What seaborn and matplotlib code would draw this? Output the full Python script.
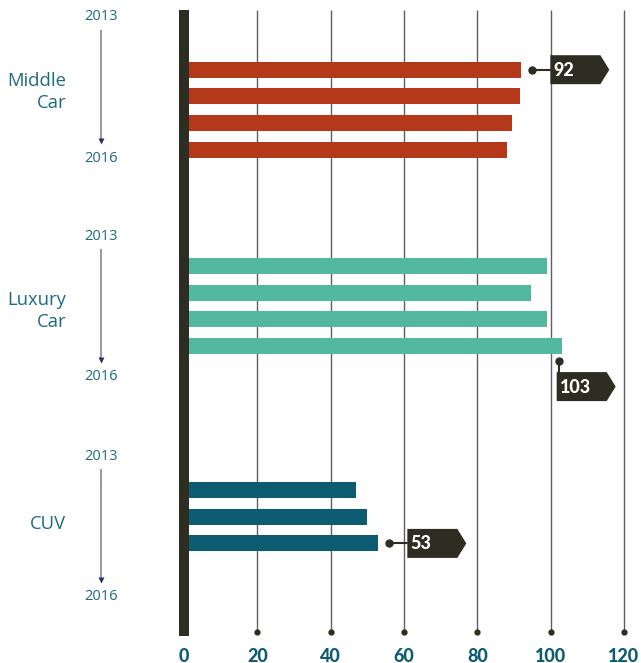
import numpy as np
import pandas as pd
import seaborn as sns
import matplotlib.pyplot as plt
from matplotlib.patches import Polygon, Rectangle

# ---- data -------------------------------------------------------------
categories = ["Middle Car", "Luxury Car", "CUV"]
years = [2013, 2014, 2015, 2016]
middle_car = [92, 91.5, 89.5, 88]
luxury_car = [99, 94.5, 99, 103]
cuv = [47, 50, 53, None]
series = [middle_car, luxury_car, cuv]
x_ticks = [0, 20, 40, 60, 80, 100, 120]
colors = ["#B4381A", "#52B9A0", "#0E5C72"]

# ---- style ------------------------------------------------------------
sns.set_theme(style="white")
plt.rcParams["font.family"] = ["Open Sans", "DejaVu Sans"]

DARK = "#2D2D21"
LABEL = "#1D6A80"
TICK = "#0E5C72"

W, H = 641, 663
fig = plt.figure(figsize=(W / 100, H / 100), dpi=100)
ax = fig.add_axes([0, 0, 1, 1])

X0 = 184            # pixel column of the zero line
PX = 440 / 120      # pixels per value unit


def vx(px):
    """Horizontal pixel position -> value axis."""
    return (px - X0) / PX


# layout of each group (pixel rows, top-down)
first_bar = [69.7, 266.0, 490.0]
pitch = 26.7
year_top = [17, 236, 456]
label_mid = [92, 311, 524]

rows = []
for g, (cat, vals) in enumerate(zip(categories, series)):
    for i, (yr, v) in enumerate(zip(years, vals)):
        if v is None:
            continue
        rows.append(dict(category=cat, year=yr, value=v,
                         pos=first_bar[g] + i * pitch))
df = pd.DataFrame(rows)

sns.barplot(data=df, x="value", y="pos", hue="category", orient="y",
            native_scale=True, palette=colors, hue_order=categories,
            width=16 / pitch, dodge=False, legend=False, saturation=1,
            linewidth=0, ax=ax, zorder=3)

ax.set_xlim(vx(0), vx(W))
ax.set_ylim(H, 0)
ax.axis("off")

# vertical grid lines with a dot at the foot
for t in x_ticks[1:]:
    ax.plot([t, t], [10, 632], color="#5f5f5f", lw=1.0, zorder=1,
            solid_capstyle="butt")
    ax.plot(t, 632, "o", ms=3.5, color=DARK, zorder=2)

# thick zero axis
ax.add_patch(Rectangle((vx(179), 10), vx(189) - vx(179), 626,
                       color=DARK, zorder=5, lw=0))

# value tick labels
for t in x_ticks:
    ax.text(t, 656, str(t), ha="center", va="center", fontsize=13,
            family=["Lato", "DejaVu Sans"], fontweight="black", color=TICK)

# category labels, year range and arrow
for g, cat in enumerate(categories):
    ax.text(vx(66), label_mid[g], cat.replace(" ", "\n"), ha="right",
            va="center", fontsize=13.3, color=LABEL, linespacing=1.3)
    ax.text(vx(101), year_top[g], str(years[0]), ha="center", va="center",
            fontsize=10.5, color=LABEL)
    ax.text(vx(101), year_top[g] + 141, str(years[-1]), ha="center",
            va="center", fontsize=10.5, color=LABEL)
    ax.plot([vx(101), vx(101)], [year_top[g] + 13, year_top[g] + 122],
            color="#8890AA", lw=1.3, solid_capstyle="butt")
    ax.plot(vx(101), year_top[g] + 124, marker="v", ms=4.5, color="#27325A",
            mec="none")


def flag(x_left, y_mid, text):
    pts = [(x_left, y_mid - 14.5), (x_left + 50, y_mid - 14.5),
           (x_left + 59, y_mid), (x_left + 50, y_mid + 14.5),
           (x_left, y_mid + 14.5)]
    ax.add_patch(Polygon([(vx(px), py) for px, py in pts], closed=True,
                         color=DARK, lw=0, zorder=6))
    ax.text(vx(x_left + 3), y_mid + 0.5, text, ha="left", va="center",
            fontsize=13, family=["Lato", "DejaVu Sans"],
            fontweight="black", color="white", zorder=7)


# callouts on each group's maximum
for g, vals in enumerate(series):
    clean = [v for v in vals if v is not None]
    vmax = max(clean)
    i = vals.index(vmax)
    yc = first_bar[g] + i * pitch
    end_px = X0 + vmax * PX
    label = f"{vmax:g}"
    if i == len(years) - 1:
        # last bar: marker below the bar, flag hangs underneath
        dx, dy = end_px - 3, yc + 15
        ax.plot([vx(dx), vx(dx)], [dy, dy + 12], color=DARK, lw=1.5, zorder=6)
        ax.plot(vx(dx), dy, "o", ms=5, color=DARK, zorder=6)
        flag(dx - 2, dy + 25.5, label)
    else:
        dx, dy = end_px + 11, yc
        ax.plot([vx(dx), vx(dx + 18)], [dy, dy], color=DARK, lw=1.5, zorder=6)
        ax.plot(vx(dx), dy, "o", ms=5, color=DARK, zorder=6)
        flag(dx + 18, dy, label)

fig.savefig("out.png", dpi=100)
